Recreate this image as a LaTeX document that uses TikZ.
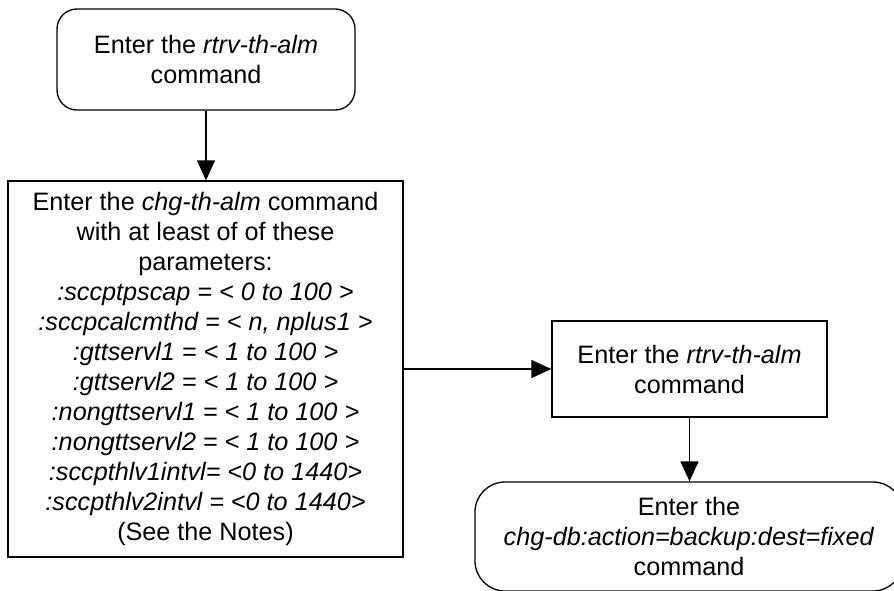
\documentclass[tikz,border=0pt]{standalone}
\usepackage{fontspec}
\setmainfont{Liberation Sans}
\usetikzlibrary{arrows.meta}
\tikzset{
  base/.style={draw, line width=1.3pt, align=center, inner sep=0pt, font=\fontsize{25.2}{30}\selectfont},
  procbox/.style={base, rectangle},
  termbox/.style={base, rectangle, rounded corners=20pt},
  flow/.style={line width=1.3pt, -{Triangle[length=20pt,width=18pt]}}
}
\begin{document}
\begin{tikzpicture}[x=1pt,y=-1pt]
\useasboundingbox (0,0) rectangle (894,591);
\node[termbox, minimum width=298pt, minimum height=101pt] (top) at (206,59.5)
  {Enter the \textit{rtrv-th-alm}\\command};
\node[procbox, minimum width=395pt, minimum height=376pt] (big) at (205.5,369)
  {Enter the \textit{chg-th-alm} command\\with at least of of these\\parameters:\\
   \textit{:sccptpscap = < 0 to 100 >}\\
   \textit{:sccpcalcmthd = < n, nplus1 >}\\
   \textit{:gttservl1 = < 1 to 100 >}\\
   \textit{:gttservl2 = < 1 to 100 >}\\
   \textit{:nongttservl1 = < 1 to 100 >}\\
   \textit{:nongttservl2 = < 1 to 100 >}\\
   \textit{:sccpthlv1intvl= <0 to 1440>}\\
   \textit{:sccpthlv2intvl = <0 to 1440>}\\
   (See the Notes)};
\node[procbox, minimum width=275pt, minimum height=96pt] (right) at (689.5,369)
  {Enter the \textit{rtrv-th-alm}\\command};
\node[termbox, rounded corners=30pt, minimum width=428pt, minimum height=109pt] (bottom) at (689,536.5)
  {Enter the\\\textit{chg-db:action=backup:dest=fixed}\\command};
\draw[flow] (top.south) -- (top.south |- big.north);
\draw[flow] (big.east) -- (right.west);
\draw[flow] (right.south) -- (right.south |- bottom.north);
\end{tikzpicture}
\end{document}
